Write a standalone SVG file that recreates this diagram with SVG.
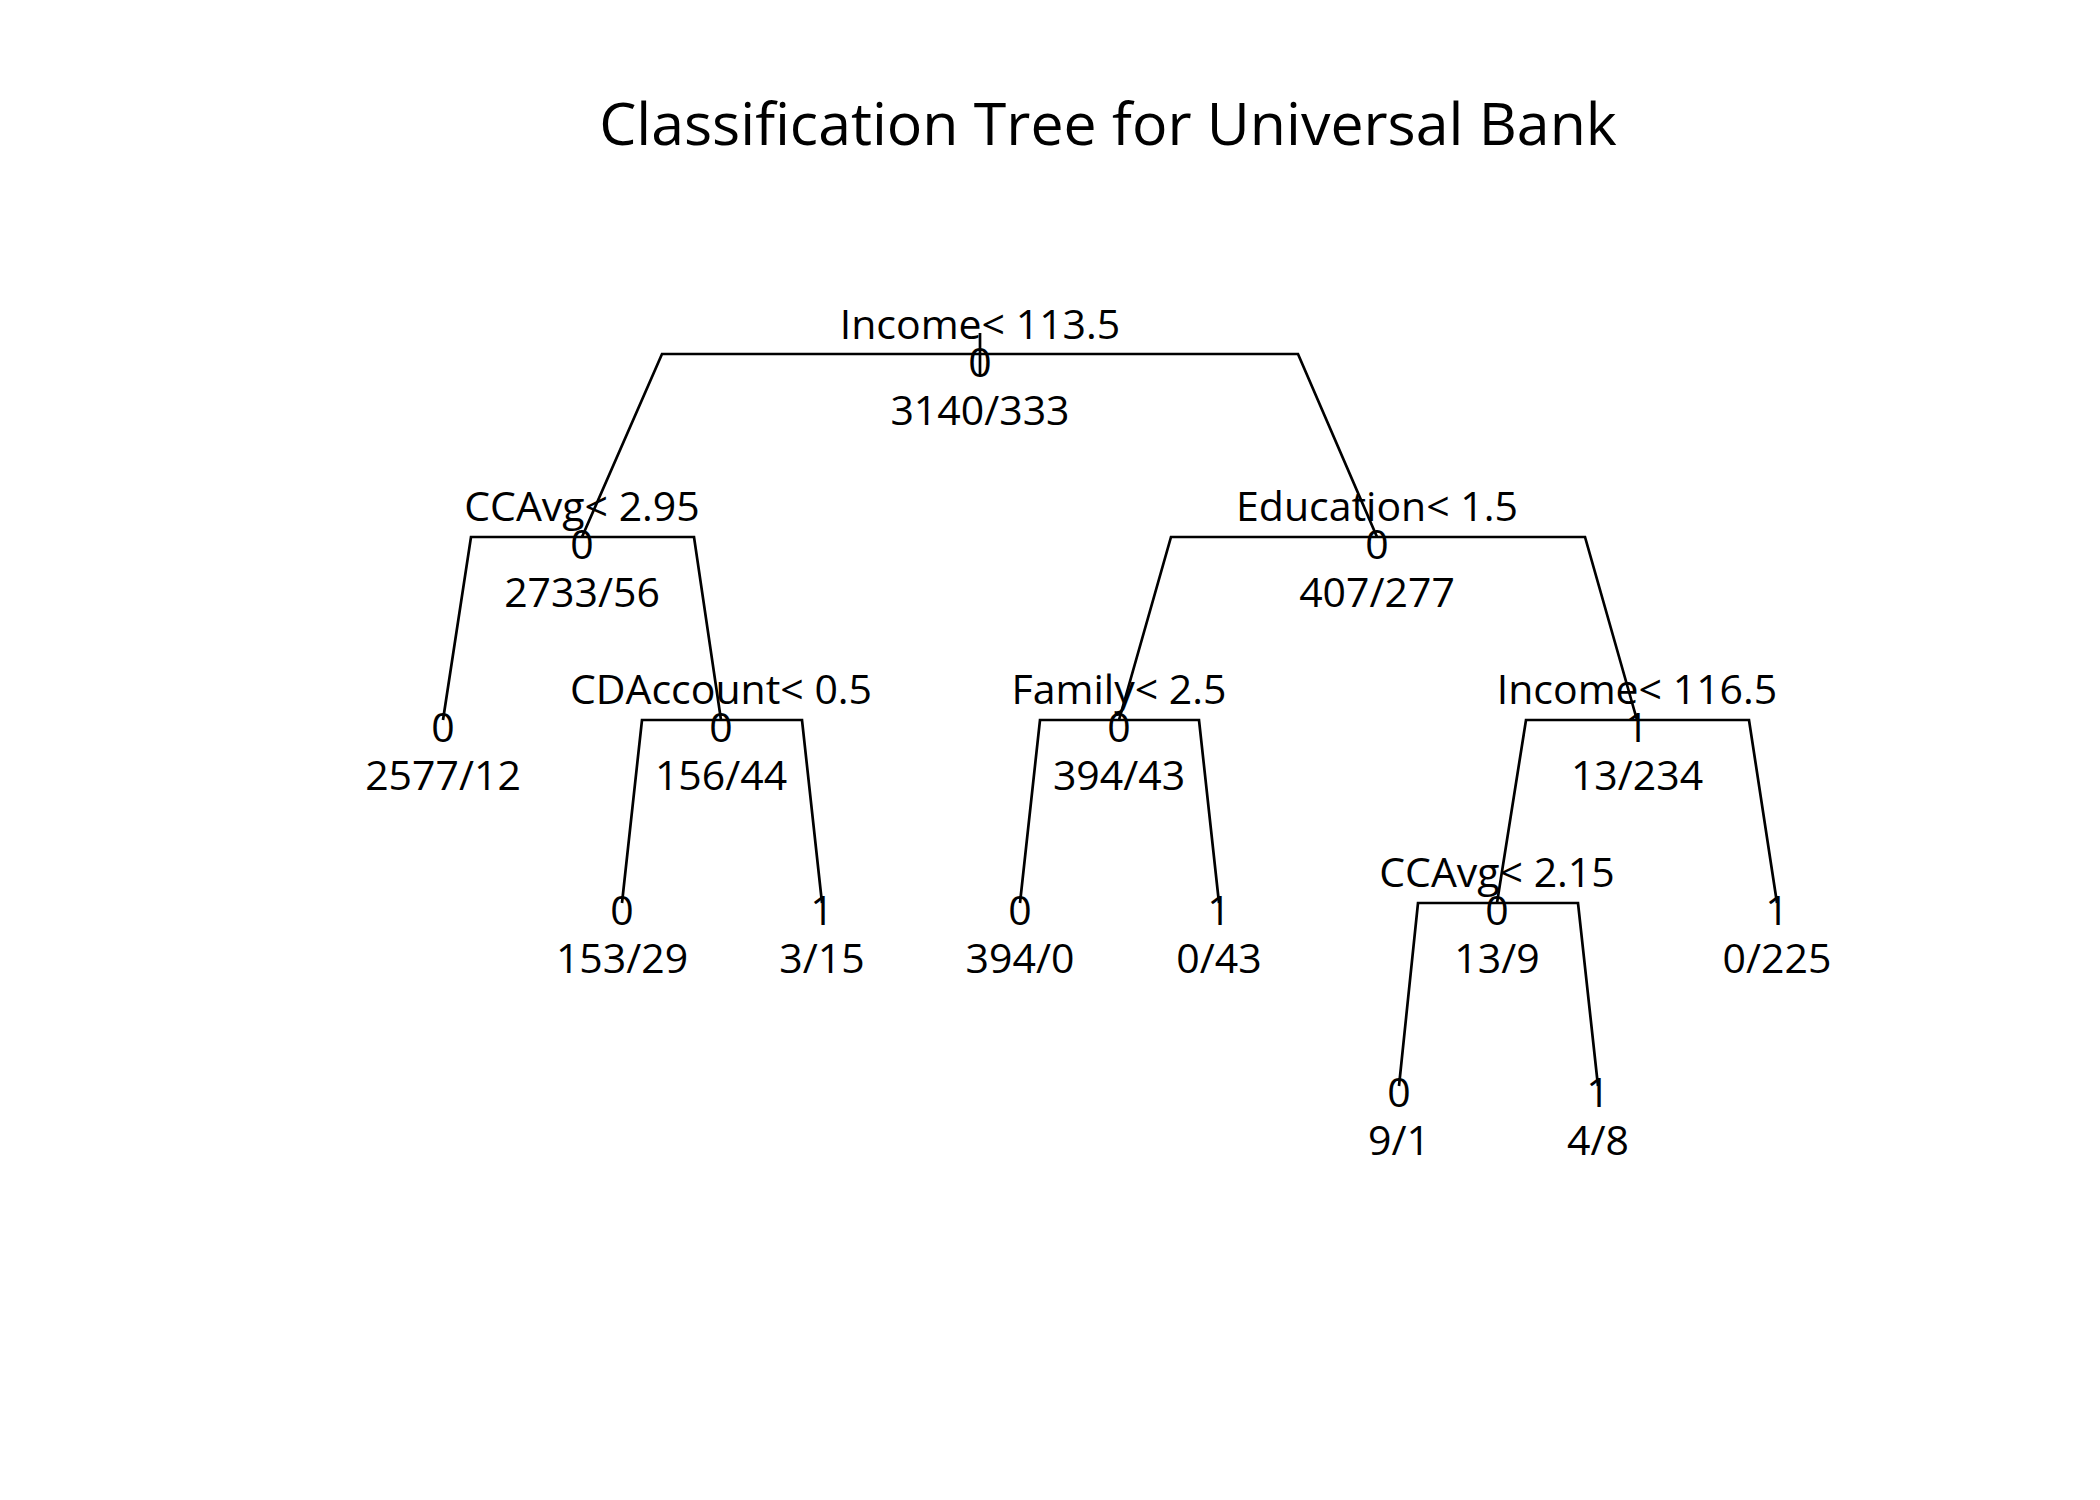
<svg xmlns="http://www.w3.org/2000/svg" width="2100" height="1500" viewBox="0 0 2100 1500">
<style>
text{font-family:"Open Sans","Noto Sans","Liberation Sans",sans-serif;font-size:41px;fill:#000;text-anchor:middle}
.title{font-size:59px}
.conn line,.conn polyline{stroke:#000;stroke-width:2.7;fill:none;stroke-linejoin:miter}
</style>
<rect width="2100" height="1500" fill="#fff"/>
<text class="title" x="1108" y="145">Classification Tree for Universal Bank</text>
<g class="conn" id="connectors">
<line x1="980" y1="333" x2="980" y2="375"/>
<polyline points="582,537 662,354 1298,354 1377,537"/>
<polyline points="443,720 471,537 694,537 721,720"/>
<polyline points="1119,720 1171,537 1585,537 1637,720"/>
<polyline points="622,903 642,720 802,720 822,903"/>
<polyline points="1020,903 1040,720 1199,720 1219,903"/>
<polyline points="1497,903 1526,720 1749,720 1777,903"/>
<polyline points="1399,1086 1418,903 1578,903 1598,1086"/>
</g>
<g id="n1"><text x="980" y="339">Income&lt; 113.5</text><text x="980" y="377">0</text><text x="980" y="425">3140/333</text></g>
<g id="n2"><text x="582" y="521">CCAvg&lt; 2.95</text><text x="582" y="559">0</text><text x="582" y="607">2733/56</text></g>
<g id="n3"><text x="1377" y="521">Education&lt; 1.5</text><text x="1377" y="559">0</text><text x="1377" y="607">407/277</text></g>
<g id="n4"><text x="443" y="742">0</text><text x="443" y="790">2577/12</text></g>
<g id="n5"><text x="721" y="704">CDAccount&lt; 0.5</text><text x="721" y="742">0</text><text x="721" y="790">156/44</text></g>
<g id="n6"><text x="1119" y="704">Family&lt; 2.5</text><text x="1119" y="742">0</text><text x="1119" y="790">394/43</text></g>
<g id="n7"><text x="1637" y="704">Income&lt; 116.5</text><text x="1637" y="742">1</text><text x="1637" y="790">13/234</text></g>
<g id="n8"><text x="622" y="925">0</text><text x="622" y="973">153/29</text></g>
<g id="n9"><text x="822" y="925">1</text><text x="822" y="973">3/15</text></g>
<g id="n10"><text x="1020" y="925">0</text><text x="1020" y="973">394/0</text></g>
<g id="n11"><text x="1219" y="925">1</text><text x="1219" y="973">0/43</text></g>
<g id="n12"><text x="1497" y="887">CCAvg&lt; 2.15</text><text x="1497" y="925">0</text><text x="1497" y="973">13/9</text></g>
<g id="n13"><text x="1777" y="925">1</text><text x="1777" y="973">0/225</text></g>
<g id="n14"><text x="1399" y="1107">0</text><text x="1399" y="1155">9/1</text></g>
<g id="n15"><text x="1598" y="1107">1</text><text x="1598" y="1155">4/8</text></g>
</svg>
